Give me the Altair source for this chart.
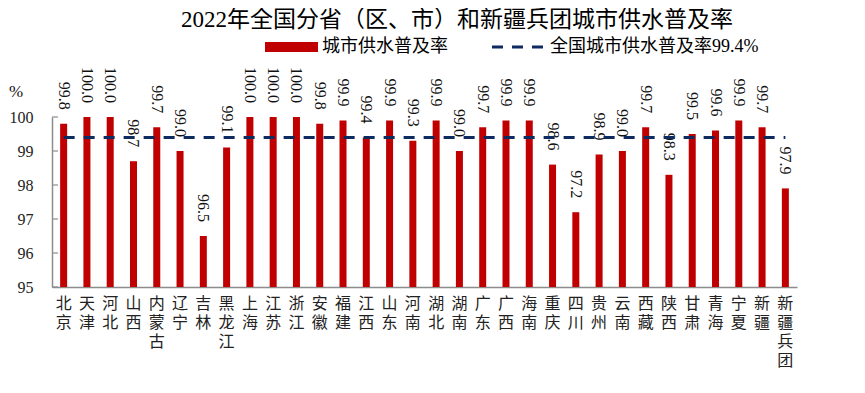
import altair as alt
import pandas as pd

provinces = ["北京", "天津", "河北", "山西", "内蒙古", "辽宁", "吉林", "黑龙江", "上海", "江苏",
             "浙江", "安徽", "福建", "江西", "山东", "河南", "湖北", "湖南", "广东", "广西",
             "海南", "重庆", "四川", "贵州", "云南", "西藏", "陕西", "甘肃", "青海", "宁夏",
             "新疆", "新疆兵团"]
values = [99.8, 100.0, 100.0, 98.7, 99.7, 99.0, 96.5, 99.1, 100.0, 100.0,
          100.0, 99.8, 99.9, 99.4, 99.9, 99.3, 99.9, 99.0, 99.7, 99.9,
          99.9, 98.6, 97.2, 98.9, 99.0, 99.7, 98.3, 99.5, 99.6, 99.9,
          99.7, 97.9]
national = 99.4
y_ticks = [95, 96, 97, 98, 99, 100]

title_text = "2022年全国分省（区、市）和新疆兵团城市供水普及率"
legend_bar = "城市供水普及率"
legend_line = "全国城市供水普及率99.4%"

FONT = "Liberation Serif, Noto Sans CJK SC"
RED = "#C00000"
NAVY = "#0D2B5E"
GRAY = "#8c8c8c"

df = pd.DataFrame({"province": provinces, "value": values, "national": [national] * len(provinces)})
tick_df = pd.DataFrame({"tick": y_ticks})

x_axis = alt.Axis(title=None, labelAngle=0, labelExpr="split(datum.value, '')",
                  labelBaseline="top", labelLineHeight=19, labelPadding=8,
                  ticks=False, labelFont=FONT, labelFontSize=16, labelColor="#222222",
                  domainColor=GRAY, domainWidth=1.5, labelOverlap=False)
y_axis = alt.Axis(title=None, values=y_ticks, grid=False, labelFont=FONT, labelFontSize=16,
                  labelColor="#222222", domainColor=GRAY, domainWidth=1.5,
                  ticks=False, labelPadding=19, labelOverlap=False,
                  labelFlush=False, labelBound=False)
x_scale = alt.Scale(paddingInner=0, paddingOuter=0)
y_scale = alt.Scale(domain=[95, 100], nice=False, zero=False)

x_enc = alt.X("province:N", sort=provinces, scale=x_scale, axis=x_axis)

base = alt.Chart(df)
bars = base.mark_bar(color=RED, size=7).encode(
    x=x_enc,
    y=alt.Y("value:Q", scale=y_scale, axis=y_axis),
    y2=alt.datum(95),
)
labels = base.mark_text(angle=90, align="right", baseline="middle", dx=-14, font=FONT,
                        fontSize=16, color="#111111").encode(
    x=x_enc,
    y=alt.Y("value:Q", scale=y_scale, axis=y_axis),
    text=alt.Text("value:Q", format=".1f"),
)
line = base.mark_line(color=NAVY, strokeWidth=3, strokeDash=[11, 9]).encode(
    x=x_enc,
    y=alt.Y("national:Q", scale=y_scale, axis=y_axis),
)
ticks = alt.Chart(tick_df).mark_rule(color=GRAY, strokeWidth=1.2).encode(
    x=alt.value(0), x2=alt.value(6),
    y=alt.Y("tick:Q", scale=y_scale, axis=y_axis),
)

one = alt.Chart(pd.DataFrame({"t": [title_text], "lb": [legend_bar], "ll": [legend_line], "p": ["%"]}))
title = one.mark_text(font=FONT, fontSize=23, align="center", baseline="middle", color="#000000").encode(
    x=alt.value(405), y=alt.value(-97), text="t:N")
leg_rect = one.mark_rect(color=RED).encode(
    x=alt.value(213), x2=alt.value(266), y=alt.value(-75), y2=alt.value(-65))
leg_text1 = one.mark_text(font=FONT, fontSize=18, align="left", baseline="middle", color="#000000").encode(
    x=alt.value(270), y=alt.value(-70), text="lb:N")
leg_line = one.mark_rule(color=NAVY, strokeWidth=3, strokeDash=[11, 9]).encode(
    x=alt.value(440), x2=alt.value(495), y=alt.value(-70))
leg_text2 = one.mark_text(font=FONT, fontSize=18, align="left", baseline="middle", color="#000000").encode(
    x=alt.value(498), y=alt.value(-70), text="ll:N")
pct = one.mark_text(font=FONT, fontSize=17, align="center", baseline="middle", color="#111111").encode(
    x=alt.value(-36), y=alt.value(-25), text="p:N")

chart = alt.layer(bars, ticks, labels, line, title, leg_rect, leg_text1, leg_line, leg_text2, pct).properties(
    width=745, height=170,
    padding={"left": 44, "top": 109, "right": 60, "bottom": 98},
    autosize=alt.AutoSizeParams(type="none"),
).configure_view(stroke=None)

chart.save("out.html", embed_options={"renderer": "svg", "actions": False})
